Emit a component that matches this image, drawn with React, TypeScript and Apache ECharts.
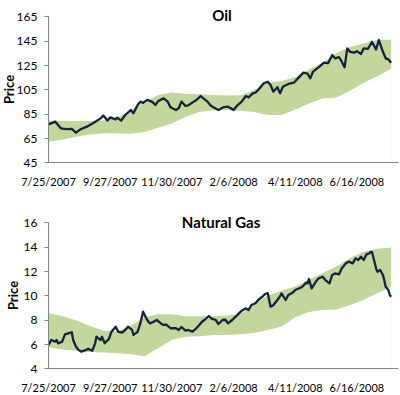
import React, { useEffect, useRef } from 'react';
import * as echarts from 'echarts';

// x positions are trading-day indices counted from 7/25/2007
const dateLabels = ['7/25/2007', '9/27/2007', '11/30/2007', '2/6/2008', '4/11/2008', '6/16/2008'];
const labelDays = [0, 45, 90, 135, 180, 225];

const bandDays = [0, 10, 20, 30, 40, 50, 60, 70, 80, 90, 100, 110, 120, 130, 140, 150, 160, 170, 180, 190, 200, 210, 220, 230, 240, 250];

const oilUpper = [79.5, 79.3, 79, 79, 79.5, 82, 88, 95, 100.5, 102.5, 101.5, 101, 100.5, 100, 100.2, 104.5, 110.5, 112, 115, 121.5, 127, 135, 140, 143, 146, 146];
const oilLower = [62, 63.5, 66, 68, 69, 69, 68.5, 70, 73.5, 77, 82.5, 86.5, 88, 88, 87.5, 86.5, 84, 84, 88.5, 93.5, 97.5, 98.5, 104, 110.5, 116, 122];

const oilDays = [0, 5, 9, 13, 17, 20, 23, 28, 33, 38, 40, 43, 45, 49, 50, 53, 56, 60, 62, 65, 67, 69, 72, 76, 78, 80, 84, 87, 89, 93, 95, 97, 100, 102, 106, 108, 111, 113, 116, 118, 120, 124, 128, 131, 133, 135, 138, 141, 144, 146, 149, 151, 153, 157, 160, 162, 164, 167, 169, 171, 175, 179, 182, 186, 189, 191, 193, 197, 201, 204, 207, 209, 212, 214, 216, 218, 220, 223, 225, 228, 230, 233, 236, 239, 241, 244, 246, 248, 250];
const oilPrice = [76.3, 78.5, 73, 72.3, 72.5, 69.4, 72, 74.4, 77.6, 81.2, 83.5, 79.5, 82, 80.4, 81.8, 79.3, 84, 88.1, 85.4, 92.2, 95, 94, 96.4, 94.6, 92.2, 95.5, 97.7, 95, 90.3, 88.1, 89.5, 95, 91.4, 92, 95, 96.4, 99.6, 97.7, 95, 92.2, 90.5, 88.1, 90.5, 90.8, 89.5, 88.1, 92.2, 95, 99.6, 98.5, 101.8, 102.4, 104.6, 110.1, 111.4, 108.7, 103.2, 106.9, 101.8, 107.3, 109.6, 110.6, 114.2, 118.9, 118, 114.2, 119.7, 123.3, 127.1, 126.7, 133.4, 130.7, 131.6, 127.9, 123.3, 138.9, 136.1, 135.4, 136.6, 134.3, 138.9, 138.4, 144.4, 138, 145.8, 136.1, 130.7, 129.8, 127];

const gasUpper = [8.55, 8.3, 7.95, 7.5, 7.1, 7.05, 7.5, 8.2, 8.45, 8.45, 8.3, 8.3, 8.3, 8.35, 8.45, 9.35, 10.0, 10.4, 10.75, 11.3, 11.85, 12.4, 13.1, 13.6, 13.85, 13.95];
const gasLower = [5.75, 5.55, 5.45, 5.35, 5.3, 5.25, 5.15, 5.0, 5.65, 6.35, 6.6, 6.65, 6.75, 6.75, 6.8, 6.9, 7.15, 7.45, 8.2, 8.65, 8.8, 8.85, 9.2, 9.65, 10.2, 10.7];

const gasDays = [0, 2, 5, 6, 7, 10, 12, 15, 17, 18, 20, 22, 24, 27, 29, 32, 34, 35, 38, 39, 41, 44, 46, 49, 51, 54, 56, 58, 61, 62, 65, 67, 69, 72, 74, 77, 79, 82, 84, 86, 89, 93, 95, 97, 100, 102, 105, 107, 110, 112, 114, 117, 119, 122, 124, 127, 129, 131, 134, 136, 139, 141, 144, 146, 148, 151, 153, 156, 158, 160, 162, 164, 167, 169, 170, 173, 175, 178, 180, 183, 185, 188, 189, 190, 192, 195, 197, 200, 202, 205, 207, 209, 212, 214, 217, 219, 222, 224, 226, 228, 230, 232, 234, 235, 236, 239, 240, 242, 244, 245, 246, 248, 249, 250];
const gasPrice = [5.92, 6.33, 6.2, 6.33, 6.05, 6.2, 6.8, 6.9, 6.97, 6.33, 5.8, 5.5, 5.37, 5.5, 5.6, 5.45, 6.06, 6.6, 6.33, 6.6, 6.06, 6.4, 7.02, 7.43, 7.0, 6.95, 7.16, 7.43, 7.16, 6.75, 7.0, 7.7, 8.67, 7.98, 7.7, 7.85, 7.98, 7.7, 7.57, 7.6, 7.3, 7.3, 7.16, 7.4, 7.1, 7.16, 7.02, 7.2, 7.57, 7.84, 8.0, 8.31, 8.1, 7.98, 7.65, 7.98, 8.0, 7.7, 7.98, 8.2, 8.53, 8.75, 8.94, 8.8, 9.22, 9.36, 9.63, 9.9, 10.12, 10.2, 9.08, 9.2, 9.63, 9.95, 10.17, 9.63, 10.04, 10.22, 10.45, 10.6, 10.7, 11.06, 11.0, 11.36, 10.59, 11.13, 11.41, 11.55, 11.27, 11.0, 11.69, 11.82, 11.75, 12.24, 12.65, 12.79, 12.65, 13.06, 12.93, 13.2, 12.93, 13.39, 13.47, 13.6, 13.6, 12.24, 11.96, 12.1, 11.69, 11.28, 10.72, 10.45, 10.04, 9.9];

const FONT = 'Lato, "Open Sans", sans-serif';
const GREEN = '#c3d69b';
const NAVY = '#14233f';
const AXIS = '#868686';

const pairs = (xs: number[], ys: number[]) => xs.map((x, i) => [x, ys[i]]);

export default function App() {
  const ref = useRef<HTMLDivElement>(null);
  useEffect(() => {
    if (!ref.current) return;
    const chart = echarts.init(ref.current, null, { renderer: 'svg' });
    const grids = [
      { left: 48.5, right: 2, top: 16.7, height: 145.6 },
      { left: 48.5, right: 2, top: 222.7, height: 145.6 },
    ];
    const xAxis = grids.map((_, gi) => ({
      type: 'value',
      gridIndex: gi,
      min: 0,
      max: 255,
      interval: 45,
      z: 5,
      splitLine: { show: false },
      axisTick: { show: false },
      axisLine: { show: true, lineStyle: { color: AXIS, width: 1 } },
      axisLabel: {
        margin: 14,
        color: '#000',
        fontFamily: FONT,
        fontSize: 11,
        showMinLabel: true,
        showMaxLabel: false,
        hideOverlap: false,
        formatter: (v: number) => {
          const k = labelDays.indexOf(v);
          return k >= 0 ? dateLabels[k] : '';
        },
      },
    }));
    const yCfg = [
      { min: 45, max: 165, interval: 20, nameX: 8.5, nameY: 89.5 },
      { min: 4, max: 16, interval: 2, nameX: 13, nameY: 295.5 },
    ];
    const yAxis = yCfg.map((c, gi) => ({
      type: 'value',
      gridIndex: gi,
      min: c.min,
      max: c.max,
      interval: c.interval,
      z: 5,
      splitLine: { show: false },
      axisLine: { show: true, lineStyle: { color: AXIS, width: 1 } },
      axisTick: { show: true, length: 4, lineStyle: { color: AXIS } },
      axisLabel: { margin: 11, color: '#000', fontFamily: FONT, fontSize: 12, showMinLabel: true, showMaxLabel: true },
    }));
    const charts = [
      { upper: oilUpper, lower: oilLower, days: oilDays, price: oilPrice },
      { upper: gasUpper, lower: gasLower, days: gasDays, price: gasPrice },
    ];
    const series: any[] = [];
    charts.forEach((c, gi) => {
      series.push({
        type: 'line', xAxisIndex: gi, yAxisIndex: gi, symbol: 'none', silent: true,
        data: pairs(bandDays, c.upper),
        lineStyle: { width: 0, color: GREEN },
        areaStyle: { color: GREEN, opacity: 1 },
        z: 1,
      });
      series.push({
        type: 'line', xAxisIndex: gi, yAxisIndex: gi, symbol: 'none', silent: true,
        data: pairs(bandDays, c.lower),
        lineStyle: { width: 0, color: '#fff' },
        areaStyle: { color: '#ffffff', opacity: 1 },
        z: 2,
      });
      series.push({
        type: 'line', xAxisIndex: gi, yAxisIndex: gi, symbol: 'none',
        data: pairs(c.days, c.price),
        lineStyle: { width: 2.3, color: NAVY, join: 'round' },
        z: 3,
      });
    });
    chart.setOption({
      animation: false,
      backgroundColor: '#fff',
      title: [
        { text: 'Oil', left: 217, top: 2, textAlign: 'center', textStyle: { fontFamily: FONT, fontSize: 15, fontWeight: 'bold', color: '#000' } },
        { text: 'Natural Gas', left: 216, top: 209, textAlign: 'center', textStyle: { fontFamily: FONT, fontSize: 15, fontWeight: 'bold', color: '#000' } },
      ],
      graphic: yCfg.map((c) => ({
        type: 'text',
        x: c.nameX,
        y: c.nameY,
        rotation: Math.PI / 2,
        style: {
          text: 'Price',
          fill: '#000',
          font: `bold 13px ${FONT}`,
          align: 'center',
          verticalAlign: 'middle',
        },
      })),
      grid: grids,
      xAxis,
      yAxis,
      series,
    } as any);
    return () => chart.dispose();
  }, []);
  return <div ref={ref} style={{ position: 'fixed', left: 0, top: 0, width: 400, height: 395, background: '#fff' }} />;
}
